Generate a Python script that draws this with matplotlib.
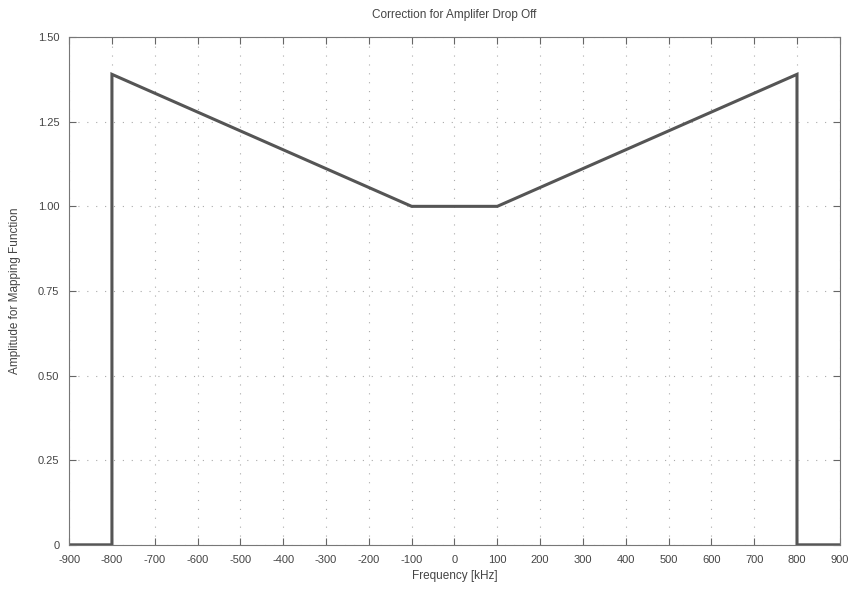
import matplotlib
matplotlib.use("Agg")
import matplotlib.pyplot as plt

# curve breakpoints
freq_khz = [-900, -800, -800, -100, 100, 800, 800, 900]
amplitude = [0.0, 0.0, 1.39, 1.0, 1.0, 1.39, 0.0, 0.0]

x_ticks = list(range(-900, 901, 100))
y_ticks = [0, 0.25, 0.5, 0.75, 1.0, 1.25, 1.5]
y_tick_labels = ["0", "0.25", "0.50", "0.75", "1.00", "1.25", "1.50"]

plt.rcParams["font.family"] = ["Liberation Sans", "DejaVu Sans"]
text_col = "#444444"

fig = plt.figure(figsize=(8.64, 5.89), dpi=100)
ax = fig.add_axes([0.080, 0.075, 0.892, 0.862])

ax.plot(freq_khz, amplitude, color="#555555", lw=2.2, solid_joinstyle="miter")

ax.set_xlim(-900, 900)
ax.set_ylim(0, 1.5)
ax.set_xticks(x_ticks)
ax.set_xticklabels([str(t) for t in x_ticks])
ax.set_yticks(y_ticks)
ax.set_yticklabels(y_tick_labels)
ax.tick_params(direction="in", top=True, right=True, length=5, width=0.8,
               labelsize=8, colors="#666666", labelcolor=text_col, pad=7)
ax.grid(True, linestyle=(0, (1, 7)), color="#aaaaaa", lw=0.8)
for s in ax.spines.values():
    s.set_color("#777777")
    s.set_linewidth(0.8)

ax.set_title("Correction for Amplifer Drop Off", fontsize=8.5, color=text_col, pad=14)
ax.set_xlabel("Frequency [kHz]", fontsize=8.5, color=text_col, labelpad=4)
ax.set_ylabel("Amplitude for Mapping Function", fontsize=8.5, color=text_col, labelpad=12)

fig.savefig("out.png", dpi=100)
